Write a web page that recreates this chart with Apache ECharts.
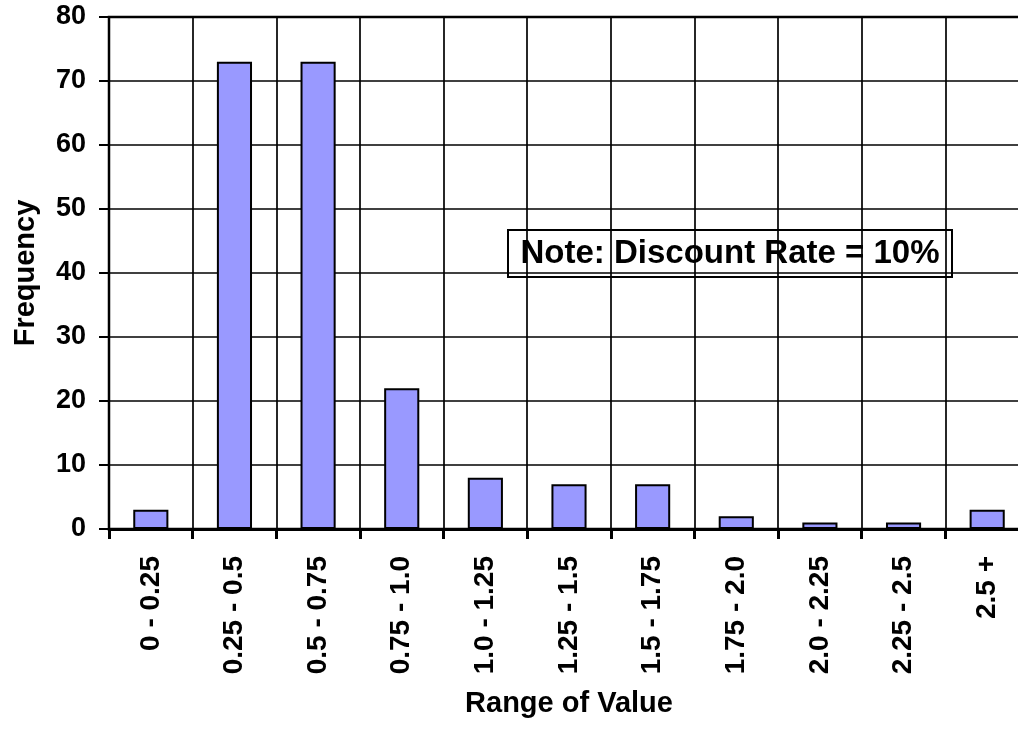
<!DOCTYPE html>
<html>
<head>
<meta charset="utf-8">
<script src="https://cdn.jsdelivr.net/npm/echarts@6/dist/echarts.min.js"></script>
<style>
  html, body { margin: 0; padding: 0; background: #fff; overflow: hidden; }
  #chart { width: 1018px; height: 729px; }
</style>
</head>
<body>
<div id="chart"></div>
<script>
// Histogram of simulated values (frequency per value range)
const categories = ['0 - 0.25', '0.25 - 0.5', '0.5 - 0.75', '0.75 - 1.0', '1.0 - 1.25',
  '1.25 - 1.5', '1.5 - 1.75', '1.75 - 2.0', '2.0 - 2.25', '2.25 - 2.5', '2.5 +'];
const frequency = [3, 73, 73, 22, 8, 7, 7, 2, 1, 1, 3];
const yTicks = { min: 0, max: 80, interval: 10 };
const noteText = 'Note: Discount Rate = 10%';

const font = '"Liberation Sans", Arial, sans-serif';
const chart = echarts.init(document.getElementById('chart'), null, { renderer: 'canvas' });

chart.setOption({
  animation: false,
  backgroundColor: '#ffffff',
  // the plot runs slightly past the right edge of the canvas
  grid: {
    left: 109, top: 17, bottom: 200, width: 920,
    outerBoundsMode: 'none',
    containLabel: false,
    show: true, borderColor: '#000', borderWidth: 2.5, backgroundColor: 'transparent'
  },
  xAxis: {
    type: 'category',
    data: categories,
    name: 'Range of Value',
    nameLocation: 'middle',
    nameGap: 160,
    nameTextStyle: { fontFamily: font, fontWeight: 'bold', fontSize: 29, color: '#000' },
    axisLine: { lineStyle: { color: '#000', width: 3 } },
    axisTick: { show: true, length: 10, lineStyle: { color: '#000', width: 3 } },
    axisLabel: {
      rotate: 90, margin: 27, interval: 0,
      fontFamily: font, fontWeight: 'bold', fontSize: 28, color: '#000'
    },
    splitLine: { show: true, interval: 0, lineStyle: { color: '#000', width: 1.7 } }
  },
  yAxis: {
    type: 'value',
    min: yTicks.min, max: yTicks.max, interval: yTicks.interval,
    name: 'Frequency',
    nameLocation: 'middle',
    nameGap: 69,
    nameRotate: 90,
    nameTextStyle: { fontFamily: font, fontWeight: 'bold', fontSize: 29, color: '#000' },
    axisLine: { show: true, lineStyle: { color: '#000', width: 2 } },
    axisTick: { show: true, length: 10, lineStyle: { color: '#000', width: 2 } },
    axisLabel: { margin: 23, fontFamily: font, fontWeight: 'bold', fontSize: 27, color: '#000' },
    splitLine: { show: true, lineStyle: { color: '#000', width: 1.7 } }
  },
  series: [{
    type: 'bar',
    data: frequency,
    barWidth: '42%',
    itemStyle: { color: '#9999ff', borderColor: '#000', borderWidth: 2 }
  }],
  graphic: [{
    type: 'group',
    left: 507, top: 229,
    children: [
      { type: 'rect', shape: { x: 0, y: 0, width: 444, height: 47 },
        style: { fill: '#fff', stroke: '#000', lineWidth: 2 } },
      { type: 'text', x: 222, y: 24,
        style: { text: noteText, font: 'bold 33px ' + font, fill: '#000',
          align: 'center', verticalAlign: 'middle' } }
    ]
  }]
});
</script>
</body>
</html>
